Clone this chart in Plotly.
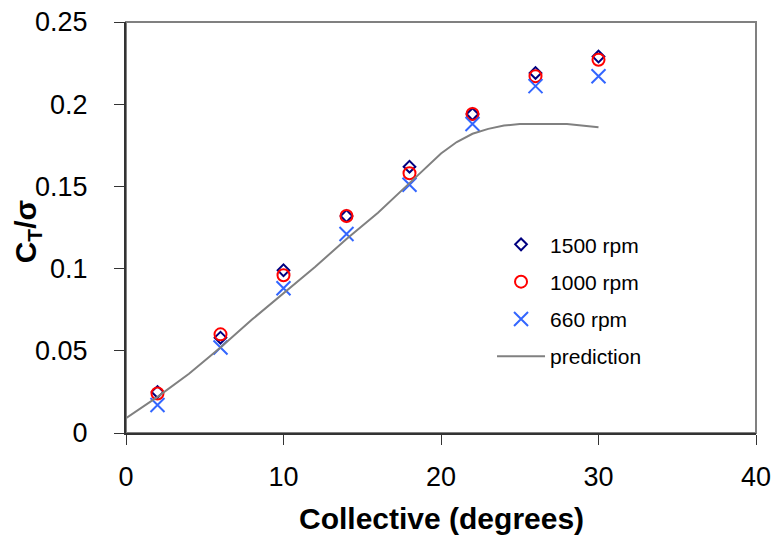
"""
Thrust coefficient vs collective: test data at three rotor speeds and prediction.
"""
import plotly.graph_objects as go

# --- data ---
collective = [2, 6, 10, 14, 18, 22, 26, 30]
ct_1500 = [0.025, 0.058, 0.099, 0.132, 0.162, 0.194, 0.219, 0.229]
ct_1000 = [0.024, 0.060, 0.096, 0.132, 0.158, 0.194, 0.217, 0.227]
ct_660 = [0.017, 0.052, 0.088, 0.121, 0.151, 0.188, 0.211, 0.217]

pred_x = [0, 2, 4, 6, 8, 10, 12, 14, 16, 18, 19, 20, 21, 22, 23, 24, 25, 26, 28, 30]
pred_y = [0.009, 0.022, 0.036, 0.052, 0.069, 0.085, 0.101, 0.118, 0.134, 0.152, 0.161,
          0.170, 0.177, 0.182, 0.185, 0.187, 0.188, 0.188, 0.188, 0.186]

FONT = "Liberation Sans, Arial, sans-serif"

fig = go.Figure()

fig.add_trace(go.Scatter(
    x=collective, y=ct_1500, mode="markers", name="1500 rpm",
    legendgroup="a",
    marker=dict(symbol="diamond-open", size=9, color="#000080", line=dict(width=2)),
))
fig.add_trace(go.Scatter(
    x=collective, y=ct_1000, mode="markers", name="1000 rpm",
    legendgroup="b",
    marker=dict(symbol="circle-open", size=12, color="#ff0000", line=dict(width=2)),
))
fig.add_trace(go.Scatter(
    x=collective, y=ct_660, mode="markers", name="660 rpm",
    legendgroup="c",
    marker=dict(symbol="x-thin-open", size=14, color="#3366ff", line=dict(width=2)),
))
fig.add_trace(go.Scatter(
    x=pred_x, y=pred_y, mode="lines", name="prediction",
    legendgroup="d",
    line=dict(color="#808080", width=2),
))

fig.update_layout(
    width=772, height=537,
    margin=dict(l=126, r=16, t=22, b=104),
    paper_bgcolor="white", plot_bgcolor="white",
    font=dict(family=FONT, size=27, color="black"),
    showlegend=True,
    legend=dict(
        x=0.581, y=0.508, xanchor="left", yanchor="top",
        font=dict(family=FONT, size=21, color="black"),
        bgcolor="rgba(0,0,0,0)",
        tracegroupgap=7,
        traceorder="grouped",
        itemwidth=48,
    ),
    shapes=[dict(
        type="rect", xref="paper", yref="paper", x0=0, x1=1, y0=0, y1=1,
        line=dict(color="#808080", width=2), layer="below",
    )],
    annotations=[
        dict(text="<b>Collective (degrees)</b>", xref="paper", yref="paper",
             x=0.5, y=-0.207, xanchor="center", yanchor="middle",
             showarrow=False, font=dict(family=FONT, size=30, color="black")),
        dict(text="<b>C<sub>T</sub>/σ</b>", xref="paper", yref="paper",
             x=-0.156, y=0.49, xanchor="center", yanchor="middle", textangle=-90,
             showarrow=False, font=dict(family=FONT, size=30, color="black")),
    ],
)

fig.update_xaxes(
    range=[0, 40], tickvals=[0, 10, 20, 30, 40],
    showgrid=False, zeroline=False, automargin=False,
    showline=True, linecolor="#333333", linewidth=2,
    ticks="outside", ticklen=10, tickcolor="#333333",
    tickfont=dict(size=27), ticklabelstandoff=9, ticklabeloverflow="allow",
)
fig.update_yaxes(
    range=[0, 0.25], tickvals=[0, 0.05, 0.1, 0.15, 0.2, 0.25],
    ticktext=["0", "0.05", "0.1", "0.15", "0.2", "0.25"],
    showgrid=False, zeroline=False, automargin=False,
    showline=True, linecolor="#333333", linewidth=2,
    ticks="outside", ticklen=10, tickcolor="#333333",
    tickfont=dict(size=27), ticklabelstandoff=21, ticklabeloverflow="allow",
)

# drop the default 8px body margin so the figure fills the window exactly
fig.write_html(
    "out.html",
    config={"displayModeBar": False},
    post_script="document.body.style.margin='0';",
)
